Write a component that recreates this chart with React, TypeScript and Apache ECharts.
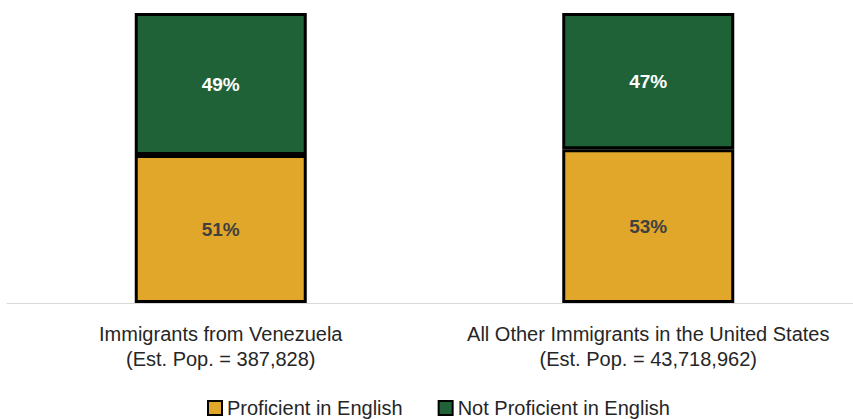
import React, { useEffect, useRef } from "react";
import * as echarts from "echarts";

const categories = [
  "Immigrants from Venezuela\n(Est. Pop. = 387,828)",
  "All Other Immigrants in the United States\n(Est. Pop. = 43,718,962)",
];
const proficient = [51, 53];
const notProficient = [49, 47];
const seriesNames = ["Proficient in English", "Not Proficient in English"];

const SANS = "'Liberation Sans', Arial, sans-serif";

export default function App() {
  const ref = useRef<HTMLDivElement>(null);
  useEffect(() => {
    if (!ref.current) return;
    const chart = echarts.init(ref.current, undefined, { renderer: "svg" });
    chart.setOption({
      animation: false,
      backgroundColor: "#ffffff",
      grid: { left: 7, width: 855, top: 13, height: 290, containLabel: false },
      legend: {
        data: seriesNames,
        top: 398,
        left: 207,
        padding: 0,
        itemWidth: 14,
        itemHeight: 14,
        itemGap: 35,
        icon: "rect",
        textStyle: { fontFamily: SANS, fontSize: 20, color: "#262626", lineHeight: 20 },
      },
      xAxis: {
        type: "category",
        data: categories,
        axisLine: { show: true, lineStyle: { color: "#d9d9d9", width: 1 } },
        axisTick: { show: false },
        axisLabel: {
          margin: 18,
          fontFamily: SANS,
          fontSize: 20,
          lineHeight: 25,
          color: "#262626",
          interval: 0,
        },
      },
      yAxis: {
        type: "value",
        min: 0,
        max: 100,
        show: false,
        splitLine: { show: false },
      },
      series: [
        {
          name: seriesNames[0],
          type: "bar",
          stack: "total",
          data: proficient,
          barWidth: 172,
          itemStyle: { color: "#e1a72b", borderColor: "#000000", borderWidth: 3 },
          label: {
            show: true,
            position: "inside",
            formatter: "{c}%",
            fontFamily: SANS,
            fontWeight: "bold",
            fontSize: 19,
            color: "#404040",
          },
        },
        {
          name: seriesNames[1],
          type: "bar",
          stack: "total",
          data: notProficient,
          barWidth: 172,
          itemStyle: { color: "#1f6238", borderColor: "#000000", borderWidth: 3 },
          label: {
            show: true,
            position: "inside",
            formatter: "{c}%",
            fontFamily: SANS,
            fontWeight: "bold",
            fontSize: 19,
            color: "#ffffff",
          },
        },
      ],
    });
    return () => chart.dispose();
  }, []);
  return (
    <div
      style={{
        position: "absolute",
        left: 0,
        top: 0,
        width: 853,
        height: 419,
        overflow: "hidden",
        background: "#ffffff",
      }}
    >
      <div ref={ref} style={{ width: 870, height: 419 }} />
    </div>
  );
}
